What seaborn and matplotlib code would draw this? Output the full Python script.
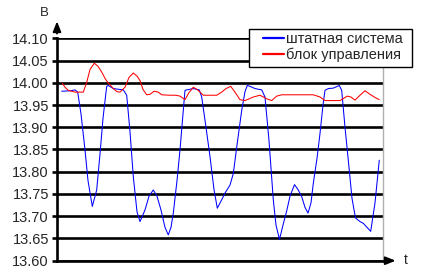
import matplotlib
matplotlib.use("Agg")
import matplotlib.pyplot as plt
from matplotlib.patches import Rectangle, FancyArrowPatch
import seaborn as sns
import pandas as pd
import numpy as np

# ---- data (x in arbitrary time units) ----
t_blue = [4.7, 13, 18, 20.7, 24, 28, 31, 35.3, 39.7, 43, 46, 49.7, 51.3, 56.3, 66.3, 69.7,
          73, 76.3, 80, 83, 88, 92, 96.3, 100, 104, 108, 111.3, 114, 116.3, 120, 123, 126,
          128, 129.7, 136.3, 142.3, 144.7, 149, 153, 157, 160.3, 164.7, 168, 173, 176.3,
          180, 184.7, 188, 190.3, 193, 198, 204.7, 208, 212, 216.3, 219, 222.5, 226, 229.7,
          233, 237.5, 241, 244.7, 248, 251, 254, 256.3, 260, 263, 266, 268, 271.3, 276.3,
          282.3, 284.7, 288, 291.3, 295, 298.5, 303, 306.3, 310, 313.7, 318, 322.3]
v_blue = [13.981, 13.982, 13.984, 13.979, 13.93, 13.849, 13.78, 13.722, 13.759, 13.84, 13.92,
          13.992, 13.994, 13.987, 13.984, 13.972, 13.89, 13.789, 13.71, 13.688, 13.714,
          13.745, 13.759, 13.745, 13.714, 13.675, 13.658, 13.675, 13.707, 13.78, 13.849,
          13.93, 13.983, 13.984, 13.987, 13.984, 13.968, 13.90, 13.834, 13.76, 13.718,
          13.737, 13.752, 13.770, 13.796, 13.86, 13.938, 13.98, 13.994, 13.992, 13.987,
          13.984, 13.968, 13.87, 13.737, 13.68, 13.648, 13.68, 13.712, 13.745, 13.771,
          13.760, 13.744, 13.72, 13.707, 13.73, 13.774, 13.83, 13.886, 13.95, 13.983,
          13.987, 13.988, 13.994, 13.983, 13.90, 13.826, 13.74, 13.696, 13.688, 13.684,
          13.675, 13.666, 13.730, 13.826]

t_red = [5.3, 8, 11.3, 18, 26.3, 29.7, 33, 37.3, 41, 44.7, 48, 50.7, 56.3, 60, 63, 68, 72,
         76.3, 80, 83, 86, 89.7, 93, 97, 101.3, 104.7, 113, 119, 123, 128, 132, 136.3, 140,
         143, 146.3, 159.7, 164.7, 169, 173.7, 178, 183, 188, 196.3, 203, 209.7, 214.7,
         219.7, 224.7, 256.3, 263, 268, 283, 290.3, 294, 298, 303, 308, 313, 318, 322.3]
v_red = [13.999, 13.99, 13.983, 13.979, 13.979, 14.001, 14.03, 14.044, 14.037, 14.024, 14.01,
         14.001, 13.987, 13.980, 13.979, 13.990, 14.012, 14.022, 14.015, 14.005, 13.985,
         13.973, 13.974, 13.981, 13.979, 13.973, 13.972, 13.972, 13.970, 13.962, 13.978,
         13.990, 13.985, 13.979, 13.972, 13.972, 13.979, 13.987, 13.992, 13.979, 13.962,
         13.960, 13.968, 13.972, 13.964, 13.960, 13.970, 13.973, 13.973, 13.968, 13.960,
         13.960, 13.970, 13.968, 13.961, 13.972, 13.982, 13.974, 13.967, 13.962]

series_names = ["штатная система", "блок управления"]
y_ticks = [13.60, 13.65, 13.70, 13.75, 13.80, 13.85, 13.90, 13.95, 14.00, 14.05, 14.10]
y_label = "В"
x_label = "t"

df = pd.concat([
    pd.DataFrame({"t": t_blue, "v": v_blue, "series": series_names[0]}),
    pd.DataFrame({"t": t_red, "v": v_red, "series": series_names[1]}),
], ignore_index=True)

sns.set_style("white")
plt.rcParams["font.family"] = ["Liberation Sans", "DejaVu Sans"]

W, H = 423, 278
fig = plt.figure(figsize=(W / 100, H / 100), dpi=100)
L, R, T, B = 57, 383, 38.3, 260.7
ax = fig.add_axes([L / W, 1 - B / H, (R - L) / W, (B - T) / H])

sns.lineplot(data=df, x="t", y="v", hue="series", palette=["#0000ff", "#ff0000"],
             estimator=None, sort=False, linewidth=0.75, ax=ax, zorder=3)

ax.set_xlim(0, R - L)
ax.set_ylim(13.60, 14.10)
ax.set_yticks(y_ticks)
ax.set_yticklabels([f"{v:.2f}" for v in y_ticks], fontsize=10.5)
ax.set_xticks([])
ax.set_xlabel("")
ax.set_ylabel("")
ax.yaxis.grid(True, color="black", linewidth=1.9, zorder=1)
ax.set_axisbelow(True)
ax.tick_params(axis="y", length=3.6, width=1.9, color="black", pad=2.2, left=True)

ax.spines["top"].set_visible(False)
ax.spines["right"].set_color("#b0b0b0")
ax.spines["right"].set_linewidth(1.0)
ax.spines["left"].set_color("black")
ax.spines["left"].set_linewidth(1.9)
ax.spines["bottom"].set_color("black")
ax.spines["bottom"].set_linewidth(1.9)

# axis arrows
fig.patches.append(FancyArrowPatch(
    (L / W, 1 - (T - 2) / H), (L / W, 1 - 18.5 / H), transform=fig.transFigure,
    arrowstyle="-|>,head_length=0.5,head_width=0.2", mutation_scale=12,
    color="black", linewidth=1.4))
fig.patches.append(FancyArrowPatch(
    (R / W, 1 - B / H), (398.5 / W, 1 - B / H), transform=fig.transFigure,
    arrowstyle="-|>,head_length=0.5,head_width=0.2", mutation_scale=12,
    color="black", linewidth=1.4))
fig.text(44.5 / W, 1 - 13.3 / H, y_label, fontsize=9.5, ha="center", va="center")
fig.text(405.3 / W, 1 - 260.5 / H, x_label, fontsize=10, ha="center", va="center")

# legend: frame drawn as a rectangle to match the original padding
handles, labels = ax.get_legend_handles_labels()
if ax.get_legend() is not None:
    ax.get_legend().remove()
fig.patches.append(Rectangle((249 / W, 1 - 67.3 / H), (411.7 - 249) / W, (67.3 - 29) / H,
                             transform=fig.transFigure, facecolor="white",
                             edgecolor="black", linewidth=1.0, zorder=5))
leg = fig.legend(handles, labels, loc="upper left", bbox_to_anchor=(263 / W, 1 - 32.5 / H),
                 bbox_transform=fig.transFigure, borderaxespad=0, borderpad=0,
                 frameon=False, fontsize=10.5, handlelength=1.45, handletextpad=0.15,
                 labelspacing=0.06)
for line in leg.get_lines():
    line.set_linewidth(1.6)
leg.set_zorder(6)

fig.savefig("out.png", dpi=100)
